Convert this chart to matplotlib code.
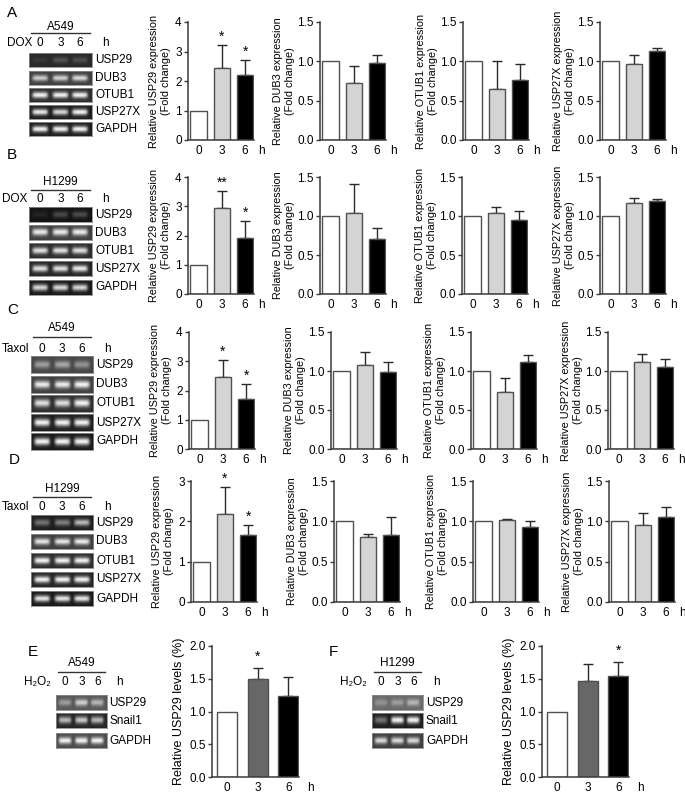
import numpy as np
import matplotlib
matplotlib.use('Agg')
import matplotlib.pyplot as plt
from matplotlib.lines import Line2D

plt.rcParams['font.family'] = ['Liberation Sans', 'DejaVu Sans']

# ---------------- data ----------------
timepoints = ['0', '3', '6']
genes = ['USP29', 'DUB3', 'OTUB1', 'USP27X']

# Row A: DOX, A549
A_USP29 = [1.0, 2.45, 2.22]; A_USP29_err = [0, 0.78, 0.48]; A_USP29_sig = ['', '*', '*']
A_DUB3 = [1.0, 0.72, 0.98]; A_DUB3_err = [0, 0.22, 0.10]
A_OTUB1 = [1.0, 0.65, 0.76]; A_OTUB1_err = [0, 0.35, 0.21]
A_USP27X = [1.0, 0.97, 1.13]; A_USP27X_err = [0, 0.11, 0.04]
# Row B: DOX, H1299
B_USP29 = [1.0, 2.95, 1.92]; B_USP29_err = [0, 0.58, 0.57]; B_USP29_sig = ['', '**', '*']
B_DUB3 = [1.0, 1.04, 0.71]; B_DUB3_err = [0, 0.37, 0.14]
B_OTUB1 = [1.0, 1.04, 0.95]; B_OTUB1_err = [0, 0.07, 0.11]
B_USP27X = [1.0, 1.17, 1.19]; B_USP27X_err = [0, 0.06, 0.03]
# Row C: Taxol, A549
C_USP29 = [1.0, 2.47, 1.72]; C_USP29_err = [0, 0.58, 0.50]; C_USP29_sig = ['', '*', '*']
C_DUB3 = [1.0, 1.08, 0.99]; C_DUB3_err = [0, 0.16, 0.12]
C_OTUB1 = [1.0, 0.73, 1.11]; C_OTUB1_err = [0, 0.18, 0.10]
C_USP27X = [1.0, 1.11, 1.05]; C_USP27X_err = [0, 0.11, 0.10]
# Row D: Taxol, H1299
D_USP29 = [1.0, 2.18, 1.65]; D_USP29_err = [0, 0.67, 0.26]; D_USP29_sig = ['', '*', '*']
D_DUB3 = [1.0, 0.80, 0.83]; D_DUB3_err = [0, 0.04, 0.22]
D_OTUB1 = [1.0, 1.02, 0.93]; D_OTUB1_err = [0, 0.01, 0.07]
D_USP27X = [1.0, 0.96, 1.05]; D_USP27X_err = [0, 0.14, 0.13]
# Row E/F: H2O2
E_USP29 = [1.0, 1.49, 1.24]; E_USP29_err = [0, 0.17, 0.28]; E_USP29_sig = ['', '*', '']
F_USP29 = [1.0, 1.47, 1.54]; F_USP29_err = [0, 0.26, 0.22]; F_USP29_sig = ['', '', '*']

# gel band intensities (0 = black, 1 = white) and backgrounds
gel_genes_AD = ['USP29', 'DUB3', 'OTUB1', 'USP27X', 'GAPDH']
gel_genes_EF = ['USP29', 'Snail1', 'GAPDH']
A_gel_bands = [[0.22, 0.32, 0.30], [0.80, 0.82, 0.85], [0.95, 0.95, 0.95], [0.92, 0.85, 0.95], [0.95, 0.95, 0.95]]
A_gel_bg = [0.16, 0.25, 0.18, 0.12, 0.12]
B_gel_bands = [[0.14, 0.28, 0.30], [0.92, 0.92, 0.92], [0.88, 0.88, 0.88], [0.88, 0.88, 0.92], [0.85, 0.85, 0.85]]
B_gel_bg = [0.08, 0.25, 0.18, 0.15, 0.10]
C_gel_bands = [[0.62, 0.66, 0.58], [0.92, 0.92, 0.95], [0.88, 0.88, 0.95], [0.95, 0.95, 0.95], [0.95, 0.95, 0.95]]
C_gel_bg = [0.28, 0.25, 0.18, 0.12, 0.10]
D_gel_bands = [[0.45, 0.50, 0.72], [0.90, 0.90, 0.92], [0.95, 0.95, 0.95], [0.95, 0.95, 0.95], [0.90, 0.90, 0.90]]
D_gel_bg = [0.12, 0.25, 0.18, 0.15, 0.10]
E_gel_bands = [[0.62, 0.82, 0.72], [0.72, 0.78, 0.72], [0.95, 0.95, 0.95]]
E_gel_bg = [0.35, 0.15, 0.30]
F_gel_bands = [[0.58, 0.62, 0.72], [0.45, 0.95, 0.95], [0.85, 0.85, 0.85]]
F_gel_bg = [0.42, 0.12, 0.25]

colors_AD = ['white', '#d4d4d4', 'black']
colors_EF = ['white', '#676767', 'black']

# ---------------- figure ----------------
W, H = 685, 799
fig = plt.figure(figsize=(W / 100, H / 100), dpi=100)


def fx(x):
    return x / W


def fy(y):
    return 1 - y / H


def px_axes(x0, y_top, w, y_bot):
    return fig.add_axes([x0 / W, 1 - y_bot / H, w / W, (y_bot - y_top) / H])


def ftext(x, y, s, ha='left', va='center', size=8.5, **kw):
    fig.text(fx(x), fy(y), s, ha=ha, va=va, fontsize=size, **kw)


def bar_chart(ax, vals, errs, sigs, colors, ymax, yticks, ylabel, width, xlim,
              star_off, labelpad, tsize, lsize):
    x = np.arange(len(vals))
    ax.bar(x, vals, width=width, color=colors, edgecolor='#505050', linewidth=1.0, zorder=2)
    for xi, v, e in zip(x, vals, errs):
        if e > 0:
            ax.errorbar([xi], [v], yerr=[[0], [e]], fmt='none', ecolor='#2a2a2a',
                        elinewidth=1.0, capsize=3.5, capthick=1.0, zorder=1, clip_on=False)
    for xi, v, e, s in zip(x, vals, errs, sigs):
        if s:
            ax.annotate(s, xy=(xi, v + e), xytext=(0, star_off), textcoords='offset points',
                        ha='center', va='bottom', fontsize=10, annotation_clip=False)
    ax.set_xlim(*xlim)
    ax.set_ylim(0, ymax)
    ax.set_yticks(yticks)
    if ymax > 2.5:
        ax.set_yticklabels([f'{t:g}' for t in yticks])
    else:
        ax.set_yticklabels([f'{t:.1f}' for t in yticks])
    ax.set_xticks(x)
    ax.set_xticklabels(timepoints)
    for sp in ['top', 'right']:
        ax.spines[sp].set_visible(False)
    for sp in ['left', 'bottom']:
        ax.spines[sp].set_color('#3a3a3a')
        ax.spines[sp].set_linewidth(1.1)
    ax.tick_params(axis='x', length=0, pad=3.5, labelsize=tsize)
    ax.tick_params(axis='y', length=3, width=1.0, pad=1.5, labelsize=tsize, color='#3a3a3a')
    ax.set_ylabel(ylabel, fontsize=lsize, labelpad=labelpad, linespacing=1.3)
    ax.annotate('h', xy=(2.72, 0), xycoords=('data', 'axes fraction'), xytext=(0, -3.5),
                textcoords='offset points', ha='center', va='top', fontsize=tsize,
                annotation_clip=False)


def gel_strip(x0, y0, w, h, intens, bg, lane_pos, sig_y=0.22):
    ax = px_axes(x0, y0, w, y0 + h)
    nx, ny = 160, 40
    X, Y = np.meshgrid(np.linspace(0, 1, nx), np.linspace(0, 1, ny))
    img = np.full_like(X, bg)
    for lp, it in zip(lane_pos, intens):
        px_ = np.exp(-((X - lp) / 0.125) ** 6)
        py_ = np.exp(-((Y - 0.5) / sig_y) ** 2)
        img = img + (it - bg) * px_ * py_
    ax.imshow(np.clip(img, 0, 1), cmap='gray', vmin=0, vmax=1, aspect='auto',
              interpolation='bilinear')
    ax.set_xticks([]); ax.set_yticks([])
    for sp in ax.spines.values():
        sp.set_color('#8a8a8a'); sp.set_linewidth(0.6)


lane_frac = [0.175, 0.5, 0.81]


def gel_panel(gx0, gx1, strip_tops, strip_h, names, bands, bgs, label_x):
    w = gx1 - gx0
    for top, nm, it, bg in zip(strip_tops, names, bands, bgs):
        gel_strip(gx0, top, w, strip_h, it, bg, lane_frac)
        ftext(label_x, top + strip_h / 2, nm)


def gel_header(gx0, gx1, cell, cell_y, line_y, treat, treat_x, lane_y, h_x):
    ftext((gx0 + gx1) / 2, cell_y, cell, ha='center')
    fig.add_artist(Line2D([fx(gx0 + 2), fx(gx1 - 2)], [fy(line_y), fy(line_y)],
                          color='#333333', linewidth=1.0, transform=fig.transFigure))
    ftext(treat_x, lane_y, treat)
    for f, t in zip(lane_frac, timepoints):
        ftext(gx0 + f * (gx1 - gx0), lane_y, t, ha='center')
    ftext(h_x, lane_y, 'h', ha='center')


# ----- gel panels A-D -----
gel_header(29, 92, 'A549', 27, 33, 'DOX', 7, 43, 105)
gel_panel(29, 92, [53, 71, 88, 105, 122], 14, gel_genes_AD, A_gel_bands, A_gel_bg, 95)
gel_header(29, 92, 'H1299', 182, 190, 'DOX', 2, 199, 105)
gel_panel(29, 92, [207, 225, 243, 261, 280], 15, gel_genes_AD, B_gel_bands, B_gel_bg, 95)
gel_header(31, 93, 'A549', 328, 337, 'Taxol', 2, 349, 107)
gel_panel(31, 93, [356, 376, 395, 414, 433], 17, gel_genes_AD, C_gel_bands, C_gel_bg, 96)
gel_header(31, 93, 'H1299', 489, 497, 'Taxol', 2, 507, 107)
gel_panel(31, 93, [515, 534, 553, 572, 591], 15, gel_genes_AD, D_gel_bands, D_gel_bg, 96)
# ----- gel panels E, F -----
gel_header(56, 107, 'A549', 663, 672, 'H₂O₂', 24, 682, 119)
gel_panel(56, 107, [695, 713, 733], 15, gel_genes_EF, E_gel_bands, E_gel_bg, 109)
gel_header(372, 423, 'H1299', 663, 672, 'H₂O₂', 340, 682, 436)
gel_panel(372, 423, [695, 713, 733], 15, gel_genes_EF, F_gel_bands, F_gel_bg, 426)

# panel letters
for L, x, y in [('A', 7, 13), ('B', 7, 155), ('C', 7, 310), ('D', 9, 460), ('E', 28, 652), ('F', 329, 652)]:
    ftext(x, y, L, size=11)

# ----- bar charts A-D -----
rows = [
    (22, 140, [188, 320, 463, 600],
     [(A_USP29, A_USP29_err, A_USP29_sig), (A_DUB3, A_DUB3_err, None),
      (A_OTUB1, A_OTUB1_err, None), (A_USP27X, A_USP27X_err, None)], 4),
    (177, 294, [188, 320, 462, 600],
     [(B_USP29, B_USP29_err, B_USP29_sig), (B_DUB3, B_DUB3_err, None),
      (B_OTUB1, B_OTUB1_err, None), (B_USP27X, B_USP27X_err, None)], 4),
    (332, 449, [189, 331, 471, 608],
     [(C_USP29, C_USP29_err, C_USP29_sig), (C_DUB3, C_DUB3_err, None),
      (C_OTUB1, C_OTUB1_err, None), (C_USP27X, C_USP27X_err, None)], 4),
    (481, 602, [191, 334, 473, 609],
     [(D_USP29, D_USP29_err, D_USP29_sig), (D_DUB3, D_DUB3_err, None),
      (D_OTUB1, D_OTUB1_err, None), (D_USP27X, D_USP27X_err, None)], 3),
]
for ytop, ybot, lefts, series, usp_max in rows:
    for gi, (left, (vals, errs, sigs)) in enumerate(zip(lefts, series)):
        ax = px_axes(left, ytop, 66, ybot)
        if gi == 0:
            ymax = usp_max
            yt = list(range(0, usp_max + 1))
            lp = 3
        else:
            ymax = 1.5
            yt = [0.0, 0.5, 1.0, 1.5]
            lp = 1.5
        bar_chart(ax, vals, errs, sigs if sigs else ['', '', ''], colors_AD, ymax, yt,
                  f'Relative {genes[gi]} expression\n(Fold change)', 0.70,
                  (-0.45, 2.38), 1.0, lp, 8.5, 7.8)

# ----- bar charts E, F -----
for left, vals, errs, sigs in [(212, E_USP29, E_USP29_err, E_USP29_sig),
                               (542, F_USP29, F_USP29_err, F_USP29_sig)]:
    ax = px_axes(left, 646, 87, 777)
    bar_chart(ax, vals, errs, sigs, colors_EF, 2.0, [0.0, 0.5, 1.0, 1.5, 2.0],
              'Relative USP29 levels (%)', 0.66, (-0.49, 2.35), 3.0, 3, 8.5, 9)

fig.savefig('out.png', dpi=100)
